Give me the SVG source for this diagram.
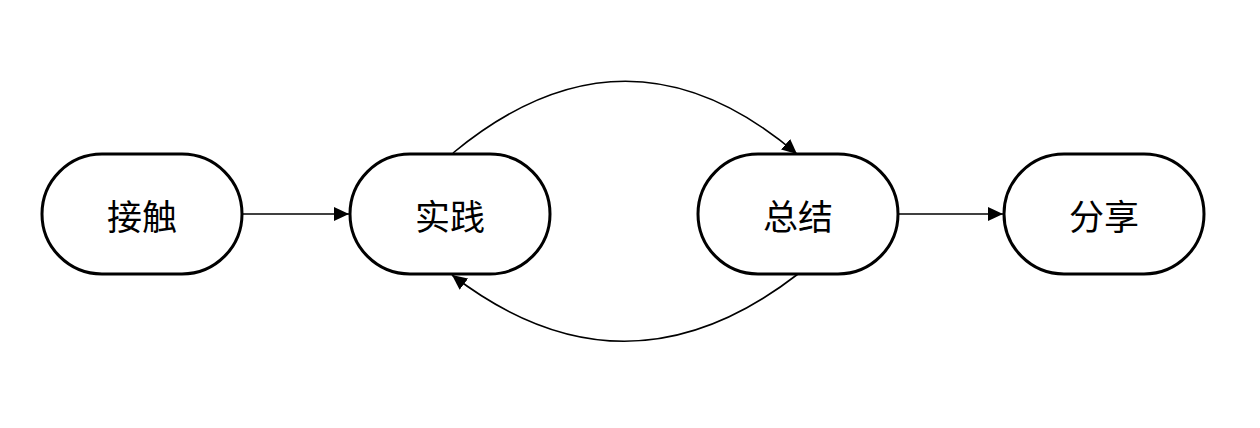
<svg xmlns="http://www.w3.org/2000/svg" width="1260" height="428" viewBox="0 0 1260 428">
<style>
.node rect{fill:#fff;stroke:#000;stroke-width:3}
.node text{font-family:"Noto Sans CJK SC","Noto Sans",sans-serif;font-size:35px;fill:#000;text-anchor:middle;dominant-baseline:central}
.edge{fill:none;stroke:#000;stroke-width:1.6}
</style>
<defs>
<marker id="arr" markerUnits="userSpaceOnUse" markerWidth="16" markerHeight="14" refX="15" refY="7" orient="auto">
<path d="M0,0 L15,7 L0,14 Z" fill="#000"/>
</marker>
</defs>
<g id="connectors">
<path class="edge" d="M242,214 L349,214" marker-end="url(#arr)"/>
<path class="edge" d="M898,214 L1003,214" marker-end="url(#arr)"/>
<path class="edge" d="M453,153 Q627,9 797,154" marker-end="url(#arr)"/>
<path class="edge" d="M798,274 Q625,408 452,275" marker-end="url(#arr)"/>
</g>
<g id="n1" class="node"><rect x="42" y="154" width="200" height="120" rx="60"/><text x="142" y="214">接触</text></g>
<g id="n2" class="node"><rect x="350" y="154" width="200" height="120" rx="60"/><text x="450" y="214">实践</text></g>
<g id="n3" class="node"><rect x="698" y="154" width="200" height="120" rx="60"/><text x="798" y="214">总结</text></g>
<g id="n4" class="node"><rect x="1004" y="154" width="200" height="120" rx="60"/><text x="1104" y="214">分享</text></g>
</svg>
